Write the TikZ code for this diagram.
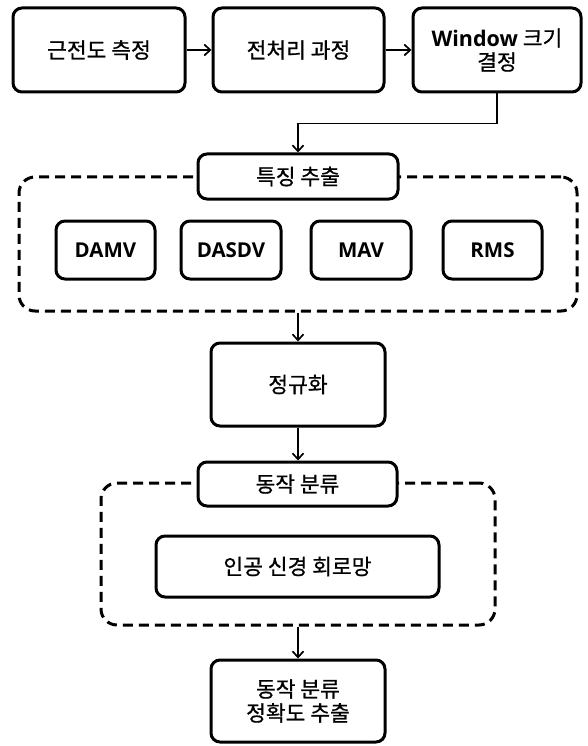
\documentclass[tikz,border=0pt]{standalone}
\usepackage{fontspec}
\setmainfont{Noto Sans CJK KR}
\newfontfamily\krfont{Noto Sans CJK KR}[FakeBold=0.7]
\newfontfamily\latinsans{Open Sans}
\usetikzlibrary{arrows.meta}
\begin{document}
\begin{tikzpicture}[x=1pt,y=-1pt,
  box/.style={draw,line width=3pt,rounded corners=9pt,fill=white,align=center,inner sep=0pt,
    font=\fontsize{21.5}{24}\selectfont\krfont},
  lat/.style={box,font=\fontsize{20.5}{24}\selectfont\latinsans\bfseries},
  grp/.style={draw,line width=3pt,dash pattern=on 10pt off 6pt,rounded corners=16pt,inner sep=0pt},
  arr/.style={line width=1.7pt,-{Straight Barb[length=6pt,width=11pt,line width=1.7pt]}}]
\useasboundingbox (0,0) rectangle (587,746);
% top row
\node (b1) [box,minimum width=172,minimum height=84] at (99,50) {근전도 측정};
\node (b2) [box,minimum width=171,minimum height=84] at (298.5,50) {전처리 과정};
\node (b3) [box,minimum width=168,minimum height=84] at (497,50) {{\latinsans\bfseries Window} 크기\\결정};
% feature group
\node (g1) [grp,minimum width=558,minimum height=134] at (298,244) {};
\node (feat) [box,minimum width=200,minimum height=45] at (298,176.5) {특징 추출};
\node (f1) [lat,minimum width=99,minimum height=58] at (105.5,250) {DAMV};
\node (f2) [lat,minimum width=100,minimum height=58] at (231,250) {DASDV};
\node (f3) [lat,minimum width=100,minimum height=58] at (361,250) {MAV};
\node (f4) [lat,minimum width=99,minimum height=58] at (492.5,250) {RMS};
% normalization
\node (norm) [box,minimum width=174,minimum height=83] at (298,384.5) {정규화};
% classification group
\node (g2) [grp,minimum width=394,minimum height=142] at (298,554) {};
\node (cls) [box,minimum width=199,minimum height=44] at (297.5,484) {동작 분류};
\node (ann) [box,minimum width=283,minimum height=61] at (297.5,566.5) {인공 신경 회로망};
% final
\node (fin) [box,minimum width=174,minimum height=82] at (298,701) {동작 분류\\정확도 추출};
% connectors
\draw[arr] (b1) -- (b2);
\draw[arr] (b2) -- (b3);
\draw[arr] (b3.south) -- ++(0,30) -| (feat.north);
\draw[arr] (norm.north |- g1.south) -- (norm.north);
\draw[arr] (norm.south) -- (cls.north -| norm.south);
\draw[arr] (fin.north |- g2.south) -- (fin.north);
\end{tikzpicture}
\end{document}
